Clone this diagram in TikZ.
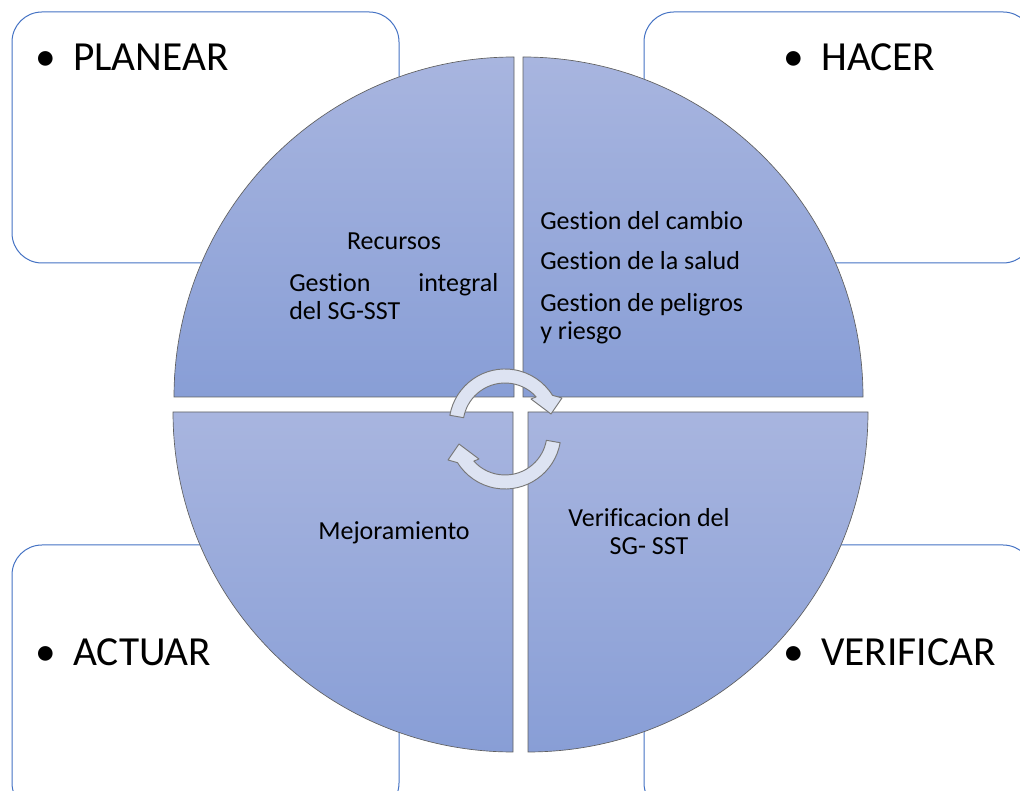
\documentclass[tikz,border=0pt]{standalone}
\usepackage{fontspec}
\setmainfont{Carlito}[Ligatures=NoCommon]
\usetikzlibrary{positioning}
\definecolor{boxblue}{RGB}{68,114,196}
\definecolor{quadtop}{RGB}{168,181,223}
\definecolor{quadbot}{RGB}{136,158,214}
\definecolor{arrowfill}{RGB}{221,227,242}
\definecolor{arrowline}{RGB}{120,120,120}
\tikzset{phasebox/.style = {draw=boxblue, line width=0.75pt, fill=white, rounded corners=22.5pt}}
\tikzset{quad/.style = {draw=gray!75!black, line width=0.5pt, top color=quadtop, bottom color=quadbot}}
\tikzset{phase/.style = {anchor=base west, inner sep=0, font=\fontsize{31}{37}\selectfont}}
\tikzset{item/.style = {anchor=base west, inner sep=0, font=\fontsize{19.5}{21}\selectfont}}
\tikzset{cyclearrow/.style = {draw=arrowline, line width=0.7pt, fill=arrowfill, line join=round}}
\newcommand{\bul}{\llap{\textbullet\hspace{13pt}}}

\begin{document}
\begin{tikzpicture}[x=0.75pt, y=0.75pt]
    \useasboundingbox (0,0) rectangle (1020,791);
    \clip (0,0) rectangle (1020,791);

    % corner boxes
    \draw [phasebox] (12,528) rectangle (399,779);
    \draw [phasebox] (644,528) rectangle (1033,779);
    \draw [phasebox] (12,-22) rectangle (399,246);
    \draw [phasebox] (644,-22) rectangle (1033,246);

    \node [phase] (planear)   at (73,720) {\bul PLANEAR};
    \node [phase] (hacer)     at (821,720) {\bul HACER};
    \node [phase] (actuar)    at (73,125) {\bul ACTUAR};
    \node [phase] (verificar) at (821,125) {\bul VERIFICAR};

    % circle quadrants
    \foreach \cx/\cy/\a in {514/394/90, 523/394/0, 513/379/180, 528/379/270} {
      \draw [quad] (\cx,\cy) -- ++(\a:340) arc [start angle=\a, end angle=\a+90, radius=340] -- cycle;
    }

    \node [item, anchor=base] (recursos) at (394,541) {Recursos};
    \node [item] (integral) at (289,499) {\makebox[156.75pt][s]{Gestion integral}};
    \node [item] (sgsst)    at (289,471) {del SG-SST};

    \node [item] (cambio)   at (540,561) {Gestion del cambio};
    \node [item] (salud)    at (540,521) {Gestion de la salud};
    \node [item] (peligros) at (540,479) {Gestion de peligros};
    \node [item] (riesgo)   at (540,451) {y riesgo};

    \node [item, anchor=base] (mejora) at (394,251) {Mejoramiento};
    \node [item, anchor=base] (verif)  at (649,264) {Verificacion del};
    \node [item, anchor=base] (verifb) at (649,236) {SG- SST};

    % cycle arrows
    \begin{scope}[shift={(505,362)}]
      \foreach \r in {0,180} {
        \begin{scope}[rotate=\r, shift={(0,4)}]
          \draw [cyclearrow] (170:56) arc [start angle=170, end angle=32, radius=56]
            -- (57,27) -- (46,11) -- (26,26) -- (42:42)
            arc [start angle=42, end angle=170, radius=42] -- cycle;
        \end{scope}
      }
    \end{scope}
\end{tikzpicture}
\end{document}
